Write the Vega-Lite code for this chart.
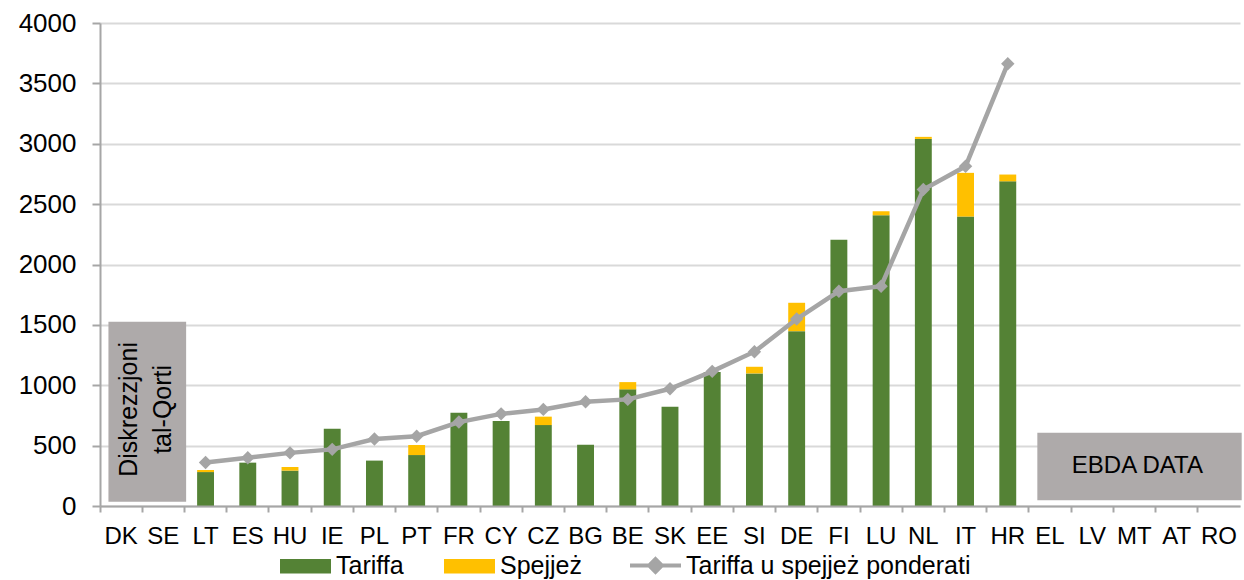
{
  "$schema": "https://vega.github.io/schema/vega-lite/v6.json",
  "width": 1140,
  "height": 483,
  "autosize": {"type": "none"},
  "padding": {"left": 100, "top": 23, "right": 4, "bottom": 74},
  "background": "white",
  "config": {
    "view": {"stroke": null},
    "font": "Liberation Sans",
    "axis": {"labelFont": "Liberation Sans", "labelColor": "#000000", "labelFontSize": 24}
  },
  "datasets": {
    "bars": [
      {"country": "LT", "series": "Tariffa", "value": 281}, {"country": "LT", "series": "Spejjeż", "value": 17},
      {"country": "ES", "series": "Tariffa", "value": 359},
      {"country": "HU", "series": "Tariffa", "value": 293}, {"country": "HU", "series": "Spejjeż", "value": 30},
      {"country": "IE", "series": "Tariffa", "value": 640},
      {"country": "PL", "series": "Tariffa", "value": 376},
      {"country": "PT", "series": "Tariffa", "value": 422}, {"country": "PT", "series": "Spejjeż", "value": 83},
      {"country": "FR", "series": "Tariffa", "value": 773},
      {"country": "CY", "series": "Tariffa", "value": 703},
      {"country": "CZ", "series": "Tariffa", "value": 670}, {"country": "CZ", "series": "Spejjeż", "value": 70},
      {"country": "BG", "series": "Tariffa", "value": 508},
      {"country": "BE", "series": "Tariffa", "value": 966}, {"country": "BE", "series": "Spejjeż", "value": 60},
      {"country": "SK", "series": "Tariffa", "value": 822},
      {"country": "EE", "series": "Tariffa", "value": 1110},
      {"country": "SI", "series": "Tariffa", "value": 1098}, {"country": "SI", "series": "Spejjeż", "value": 55},
      {"country": "DE", "series": "Tariffa", "value": 1448}, {"country": "DE", "series": "Spejjeż", "value": 235},
      {"country": "FI", "series": "Tariffa", "value": 2204},
      {"country": "LU", "series": "Tariffa", "value": 2408}, {"country": "LU", "series": "Spejjeż", "value": 33},
      {"country": "NL", "series": "Tariffa", "value": 3040}, {"country": "NL", "series": "Spejjeż", "value": 17},
      {"country": "IT", "series": "Tariffa", "value": 2397}, {"country": "IT", "series": "Spejjeż", "value": 362},
      {"country": "HR", "series": "Tariffa", "value": 2689}, {"country": "HR", "series": "Spejjeż", "value": 56}
    ],
    "line": [
      {"country": "LT", "value": 360}, {"country": "ES", "value": 400}, {"country": "HU", "value": 440},
      {"country": "IE", "value": 469}, {"country": "PL", "value": 555}, {"country": "PT", "value": 578},
      {"country": "FR", "value": 695}, {"country": "CY", "value": 763}, {"country": "CZ", "value": 800},
      {"country": "BG", "value": 864}, {"country": "BE", "value": 883}, {"country": "SK", "value": 971},
      {"country": "EE", "value": 1115}, {"country": "SI", "value": 1278}, {"country": "DE", "value": 1548},
      {"country": "FI", "value": 1779}, {"country": "LU", "value": 1820}, {"country": "NL", "value": 2621},
      {"country": "IT", "value": 2813}, {"country": "HR", "value": 3663}
    ],
    "boxes": [
      {"start": "DK", "end": "SE", "lo": 35, "hi": 1525},
      {"start": "EL", "end": "RO", "lo": 47, "hi": 607}
    ],
    "boxlabels": [
      {"country": "DK", "label": "Diskrezzjoni\ntal-Qorti", "y": 800, "pos": "a"},
      {"country": "MT", "label": "EBDA DATA", "y": 328, "pos": "b"}
    ]
  },
  "layer": [
    {
      "data": {"name": "boxes"},
      "mark": {"type": "rect", "color": "#AEAAAA"},
      "encoding": {
        "x": {"field": "start", "type": "nominal", "bandPosition": 0.2},
        "x2": {"field": "end", "bandPosition": 1.04},
        "y": {"field": "lo", "type": "quantitative"},
        "y2": {"field": "hi"}
      }
    },
    {
      "data": {"name": "boxlabels"},
      "transform": [{"filter": "datum.pos === 'a'"}],
      "mark": {"type": "text", "angle": 270, "fontSize": 25, "lineBreak": "\n", "lineHeight": 34, "align": "center", "baseline": "middle", "color": "#000000"},
      "encoding": {
        "x": {"field": "country", "type": "nominal", "bandPosition": 0.69},
        "y": {"field": "y", "type": "quantitative"},
        "text": {"field": "label"}
      }
    },
    {
      "data": {"name": "boxlabels"},
      "transform": [{"filter": "datum.pos === 'b'"}],
      "mark": {"type": "text", "fontSize": 24, "align": "center", "baseline": "middle", "color": "#000000"},
      "encoding": {
        "x": {"field": "country", "type": "nominal", "bandPosition": 0.57},
        "y": {"field": "y", "type": "quantitative"},
        "text": {"field": "label"}
      }
    },
    {
      "data": {"name": "bars"},
      "mark": {"type": "bar", "width": {"band": 0.4}},
      "encoding": {
        "x": {"field": "country", "type": "nominal"},
        "y": {"field": "value", "type": "quantitative", "stack": "zero"},
        "color": {"field": "series", "type": "nominal"},
        "order": {"field": "series", "sort": "descending"}
      }
    },
    {
      "data": {"name": "line"},
      "mark": {"type": "line", "strokeWidth": 4.5, "point": {"shape": "diamond", "size": 180, "filled": true, "color": "#A5A5A5"}},
      "encoding": {
        "x": {"field": "country", "type": "nominal"},
        "y": {"field": "value", "type": "quantitative"},
        "color": {"datum": "Tariffa u spejjeż ponderati"}
      }
    }
  ],
  "encoding": {
    "x": {
      "field": "country", "type": "nominal",
      "scale": {"domain": ["DK","SE","LT","ES","HU","IE","PL","PT","FR","CY","CZ","BG","BE","SK","EE","SI","DE","FI","LU","NL","IT","HR","EL","LV","MT","AT","RO"], "paddingInner": 0, "paddingOuter": 0},
      "axis": {"title": null, "labelAngle": 0, "bandPosition": 0, "labelPadding": 12, "domainColor": "#A6A6A6", "domainWidth": 2, "tickColor": "#A6A6A6", "tickWidth": 2, "tickSize": 6, "grid": false, "labelFontSize": 24}
    },
    "y": {
      "type": "quantitative",
      "scale": {"domain": [0, 4000], "nice": false},
      "axis": {"title": null, "format": "d", "values": [0,500,1000,1500,2000,2500,3000,3500,4000], "grid": true, "gridColor": "#D9D9D9", "gridWidth": 2, "domainColor": "#A6A6A6", "domainWidth": 2, "tickColor": "#A6A6A6", "tickWidth": 2, "tickSize": 8, "labelPadding": 16, "labelFontSize": 26}
    },
    "color": {
      "type": "nominal",
      "scale": {"domain": ["Tariffa", "Spejjeż", "Tariffa u spejjeż ponderati"], "range": ["#548235", "#FFC000", "#A5A5A5"]},
      "legend": {
        "title": null,
        "orient": "none",
        "direction": "horizontal",
        "legendX": 193,
        "legendY": 530,
        "symbolSize": 2600,
        "labelFontSize": 25,
        "labelFont": "Liberation Sans",
        "labelColor": "#000000",
        "labelOffset": 18,
        "labelLimit": 500,
        "columnPadding": 40,
        "encode": {
          "symbols": {
            "update": {
              "shape": {"signal": "datum.value === 'Tariffa u spejjeż ponderati' ? 'M-1,0H1M0,-0.25L0.25,0L0,0.25L-0.25,0Z' : 'M-1,-0.28H1V0.28H-1Z'"},
              "fill": {"signal": "scale('color', datum.value)"},
              "stroke": {"signal": "scale('color', datum.value)"},
              "strokeWidth": {"signal": "datum.value === 'Tariffa u spejjeż ponderati' ? 4 : 0"},
              "opacity": {"value": 1},
              "fillOpacity": {"value": 1}
            }
          }
        }
      }
    }
  }
}
